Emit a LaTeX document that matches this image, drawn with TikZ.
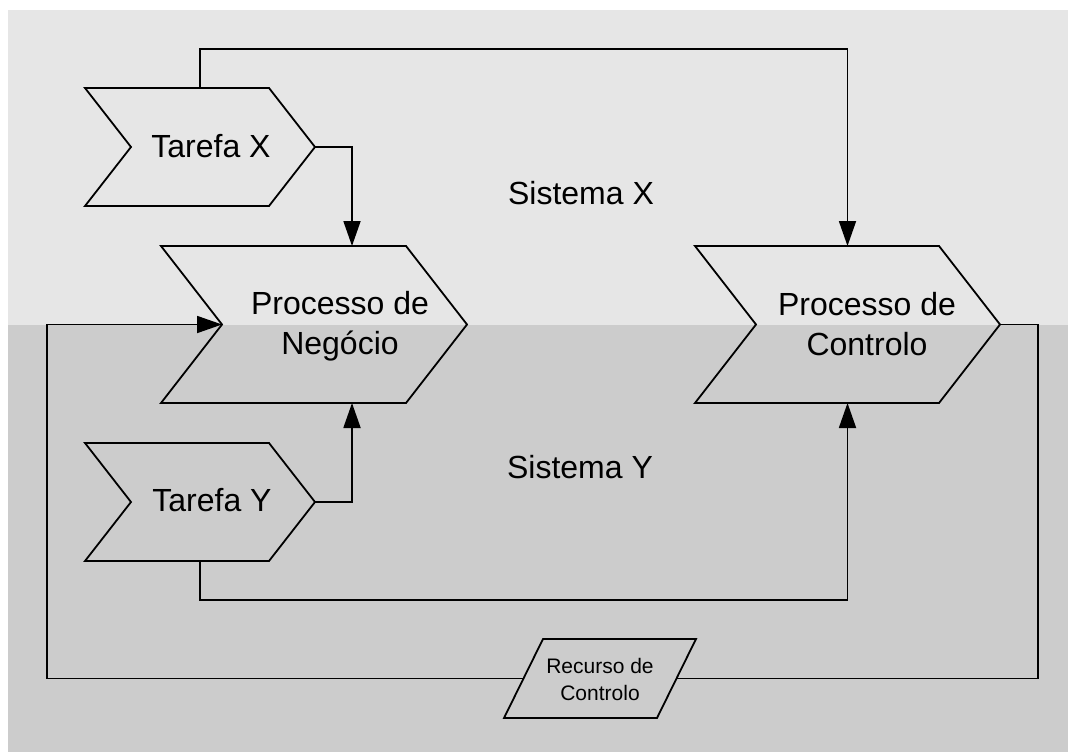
\documentclass[tikz,border=0pt]{standalone}
\usepackage{fontspec}
\setmainfont{Liberation Sans}
\usetikzlibrary{arrows.meta,calc}

\tikzset{
  frame/.style={inner sep=0pt, outer sep=0pt},
  outline/.style={line width=1.8pt, line join=miter},
  link/.style={line width=1.8pt},
  arr/.style={link, -{Triangle[length=25pt,width=17pt]}},
  big/.style={frame, font=\fontsize{32}{40}\selectfont, align=center},
  small/.style={frame, font=\fontsize{21}{27}\selectfont, align=center}
}

% chevron outline on a named frame node: notch on the left, point on the right
\newcommand\chevronpath[2]{%
  \draw[outline] (#1.north west) -- ([xshift=-#2]#1.north east) -- (#1.east)
    -- ([xshift=-#2]#1.south east) -- (#1.south west) -- ([xshift=#2]#1.west) -- cycle;}

\begin{document}
\begin{tikzpicture}[x=1pt,y=-1pt]
\useasboundingbox (0,0) rectangle (1068,752);

% the two system bands
\fill[fill={rgb,255:red,230;green,230;blue,230}] (8,10) rectangle (1068,324.5);
\fill[fill={rgb,255:red,204;green,204;blue,204}] (8,324.5) rectangle (1068,752);

\node[big] (sx) at (581,193) {Sistema X};
\node[big] (sy) at (580,467) {Sistema Y};

% shape frames
\node[frame, minimum width=230pt, minimum height=118pt] (tx) at (200,147) {};
\node[frame, minimum width=230pt, minimum height=118pt] (ty) at (200,502) {};
\node[frame, minimum width=306pt, minimum height=157pt] (neg) at (314,324.5) {};
\node[frame, minimum width=305pt, minimum height=157pt] (ctl) at (847.5,324.5) {};
\node[frame, minimum width=192pt, minimum height=79pt] (rec) at (600,678.5) {};

\chevronpath{tx}{46pt}
\chevronpath{ty}{46pt}
\chevronpath{neg}{61pt}
\chevronpath{ctl}{61pt}
\draw[outline] ([xshift=39pt]rec.north west) -- (rec.north east)
  -- ([xshift=-39pt]rec.south east) -- (rec.south west) -- cycle;

% labels
\node[big] (txt) at (211,146) {Tarefa X};
\node[big] (tyt) at (212,500) {Tarefa Y};
\node[big] (negt) at (340,326) {Processo de\\Neg\'ocio};
\node[big] (ctlt) at (867,324) {Processo de\\Controlo};
\node[small] (rect) at (600,679) {Recurso de\\Controlo};

% helper points
\coordinate (topY) at (0,49);
\coordinate (botY) at (0,600);
\coordinate (jn) at (352,0);
\coordinate (lft) at (47,0);
\coordinate (rgt) at (1038,0);
\coordinate (negin) at ([xshift=61pt]neg.west);
\coordinate (recL) at ($(rec.west)+(19.5pt,0)$);
\coordinate (recR) at ($(rec.east)+(-19.5pt,0)$);

% connectors
\draw[arr] (tx.north) -- (tx.north |- topY) -| (ctl.north);
\draw[arr] (tx.east) -| (jn |- neg.north);
\draw[arr] (ty.east) -| (jn |- neg.south);
\draw[arr] (ty.south) -- (ty.south |- botY) -| (ctl.south);
\draw[link] (ctl.east) -| (rgt |- recR) -- (recR);
\draw[arr] (recL) -- (lft |- recL) |- (negin);
\end{tikzpicture}
\end{document}
